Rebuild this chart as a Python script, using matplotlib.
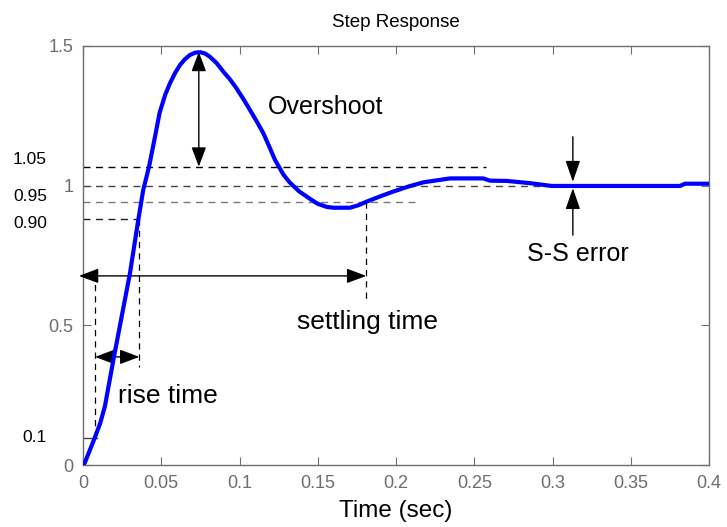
import matplotlib
matplotlib.use('Agg')
import matplotlib.pyplot as plt

plt.rcParams['font.family'] = ['Liberation Sans', 'DejaVu Sans']

# step response
time = [0, 0.001, 0.0045, 0.0077, 0.011, 0.014, 0.0194, 0.0247, 0.030, 0.0353,
        0.0385, 0.0422, 0.046, 0.049, 0.0525, 0.0556, 0.059, 0.062, 0.065,
        0.0684, 0.0716, 0.0748, 0.078, 0.081, 0.0855, 0.0897, 0.094, 0.098,
        0.1025, 0.1067, 0.111, 0.1152, 0.119, 0.1227, 0.128, 0.132, 0.138,
        0.145, 0.150, 0.1557, 0.16, 0.1706, 0.176, 0.1813, 0.19, 0.1983,
        0.208, 0.2175, 0.2345, 0.2558, 0.26, 0.2707, 0.2856, 0.2995, 0.3815,
        0.3847, 0.4]
resp = [0, 0.006, 0.055, 0.10, 0.15, 0.21, 0.376, 0.531, 0.686, 0.877,
        0.985, 1.068, 1.175, 1.262, 1.325, 1.367, 1.405, 1.432, 1.452,
        1.468, 1.476, 1.478, 1.473, 1.462, 1.438, 1.408, 1.38, 1.349,
        1.31, 1.271, 1.23, 1.188, 1.14, 1.092, 1.04, 1.012, 0.98,
        0.953, 0.935, 0.924, 0.921, 0.921, 0.93, 0.943, 0.962, 0.979,
        0.997, 1.012, 1.026, 1.026, 1.018, 1.017, 1.009, 0.999, 0.999,
        1.007, 1.007]

# reference levels and their labels
levels = [1.068, 1.0, 0.943, 0.881]
level_ends = [0.2575, 0.38, 0.2153, 0.036]
level_colors = ['black', '#444444', '#777777', '#222222']
level_labels = ['1.05', '0.95', '0.90', '0.1']
label_y = [1.092, 0.963, 0.863, 0.097]

xticks = [0, 0.05, 0.1, 0.15, 0.2, 0.25, 0.3, 0.35, 0.4]
xticklabels = ['0', '0.05', '0.1', '0.15', '0.2', '0.25', '0.3', '0.35', '0.4']
yticks = [0, 0.5, 1, 1.5]
yticklabels = ['0', '0.5', '1', '1.5']

gray = '#6e6e6e'

fig = plt.figure(figsize=(7.27, 5.27), dpi=100)
ax = fig.add_axes([83/727, 62/527, 626/727, 419/527])

# dashed guide lines
for lev, end, col in zip(levels, level_ends, level_colors):
    ax.plot([0, end], [lev, lev], color=col, lw=1, dashes=(5, 4))
ax.plot([0.0077, 0.0077], [0.1, 0.677], color='black', lw=0.9, dashes=(5, 4))
ax.plot([0.036, 0.036], [0.881, 0.351], color='black', lw=0.9, dashes=(5, 4))
ax.plot([0.181, 0.181], [0.943, 0.59], color='black', lw=0.9, dashes=(5, 4))
ax.plot([0, 0.009], [0.098, 0.098], color='#444444', lw=1)

ax.plot(time, resp, color='#0000ff', lw=3, zorder=5)

arrow = dict(arrowstyle='<|-|>,head_length=1.2,head_width=0.45',
             color='black', lw=1, shrinkA=0, shrinkB=0, mutation_scale=10)
one_way = dict(arrowstyle='-|>,head_length=1.3,head_width=0.45',
               color='black', lw=1, shrinkA=0, shrinkB=0, mutation_scale=10)
ax.annotate('', xy=(-0.0026, 0.677), xytext=(0.181, 0.677), arrowprops=arrow,
            annotation_clip=False)
ax.annotate('', xy=(0.0077, 0.387), xytext=(0.036, 0.387), arrowprops=arrow)
ax.annotate('', xy=(0.074, 1.479), xytext=(0.074, 1.068), arrowprops=arrow)
ax.annotate('', xy=(0.313, 1.014), xytext=(0.313, 1.175), arrowprops=one_way)
ax.annotate('', xy=(0.313, 0.991), xytext=(0.313, 0.823), arrowprops=one_way)

ax.text(0.1182, 1.28, 'Overshoot', fontsize=18, va='center')
ax.text(0.284, 0.757, 'S-S error', fontsize=18, va='center')
ax.text(0.1367, 0.512, 'settling time', fontsize=19, va='center')
ax.text(0.0224, 0.247, 'rise time', fontsize=19, va='center')

for lab, yy in zip(level_labels, label_y):
    ax.text(-0.023, yy, lab, fontsize=12.5, ha='right', va='center',
            clip_on=False)

ax.set_xlim(0, 0.4)
ax.set_ylim(0, 1.5)
ax.set_xticks(xticks)
ax.set_xticklabels(xticklabels)
ax.set_yticks(yticks)
ax.set_yticklabels(yticklabels)
ax.tick_params(direction='in', length=6, width=0.8, color=gray,
               labelcolor=gray, labelsize=13, top=True, right=True, pad=7)
for sp in ax.spines.values():
    sp.set_color(gray)
    sp.set_linewidth(1)

ax.set_title('Step Response', fontsize=13.5, pad=14)
ax.set_xlabel('Time (sec)', fontsize=17.5, labelpad=6)

fig.savefig('out.png', dpi=100)
